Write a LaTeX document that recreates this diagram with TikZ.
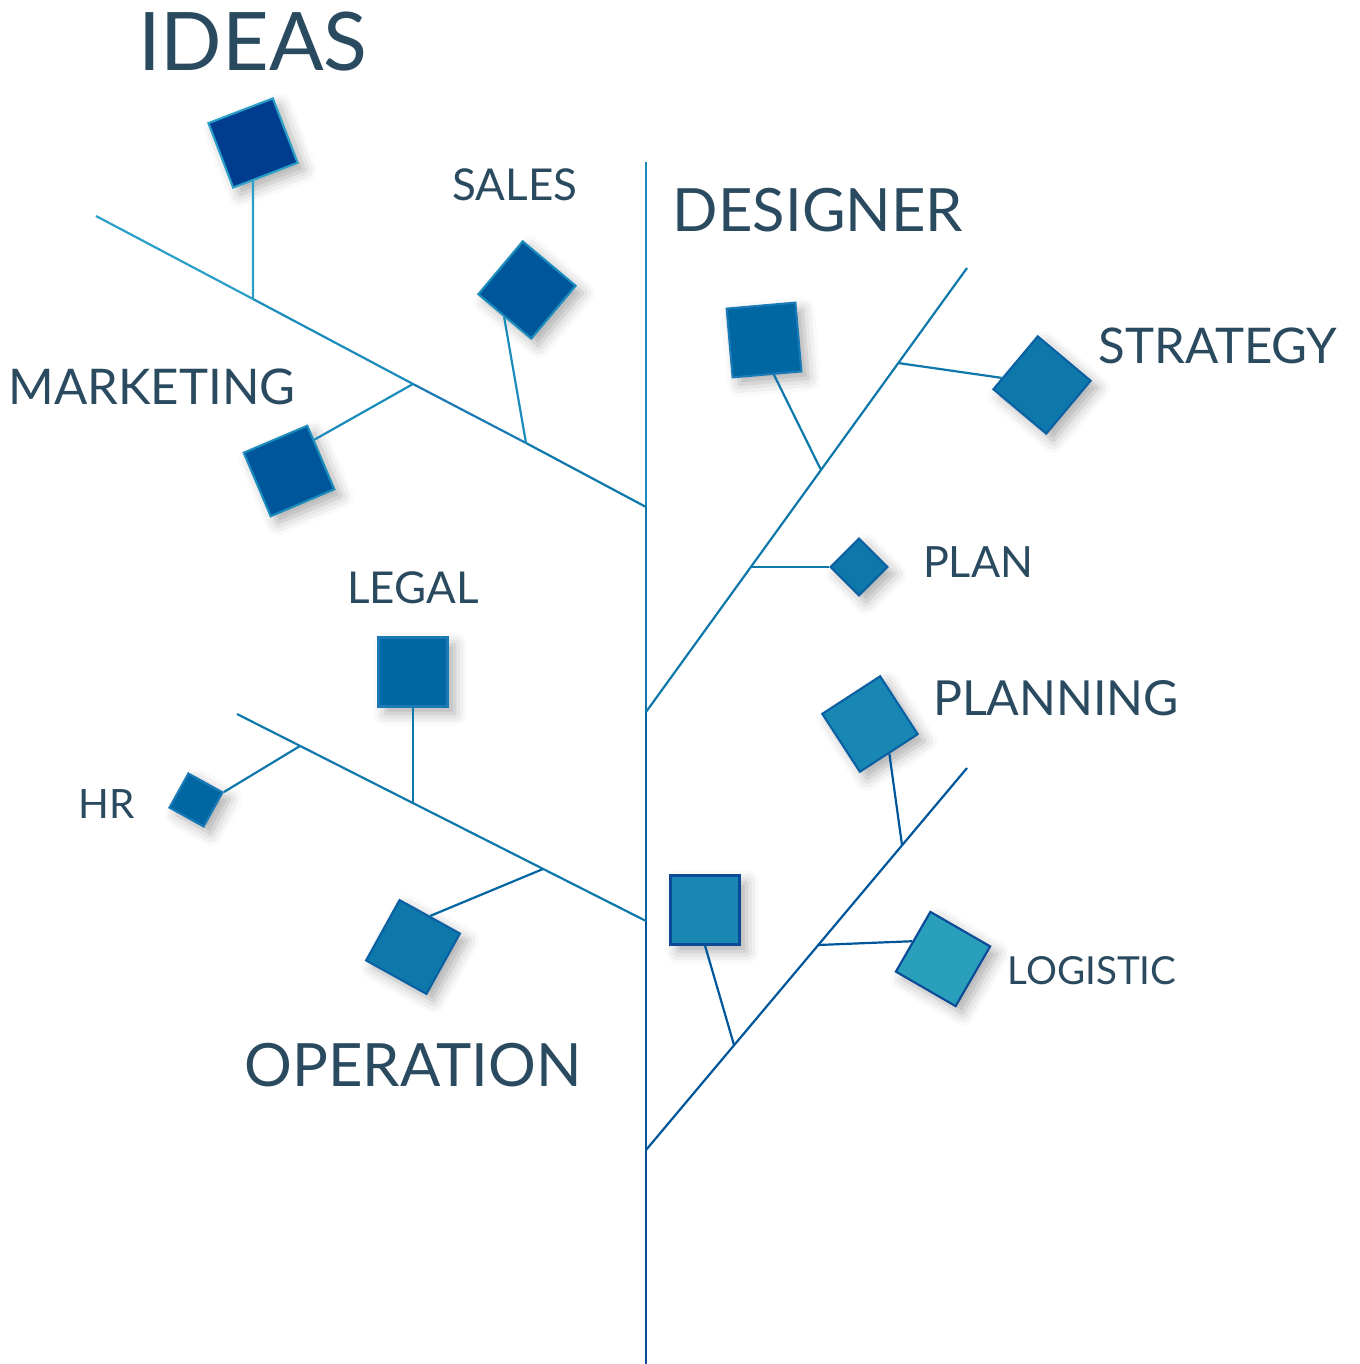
\documentclass[tikz,border=0pt]{standalone}
\usepackage{fontspec}
\setmainfont{Lato}
\usetikzlibrary{shadows.blur}
\definecolor{slate}{HTML}{2A4A60}
\definecolor{navy}{HTML}{003D8F}
\definecolor{deepblue}{HTML}{00569B}
\definecolor{midblue}{HTML}{0067A2}
\definecolor{seablue}{HTML}{0E78AB}
\definecolor{skyblue}{HTML}{1887B4}
\definecolor{tealblue}{HTML}{2A9FBB}
\definecolor{lightline}{HTML}{2AA0C8}
\definecolor{paleline}{HTML}{1A8CBC}
\definecolor{rimblue}{HTML}{1A7AB6}
\definecolor{darkline}{HTML}{0A60A2}
\definecolor{inkline}{HTML}{0A4A96}
\tikzset{
  box/.style={rectangle, draw, line width=1.2pt, minimum size=1.38cm, inner sep=0pt,
    blur shadow={shadow xshift=4pt, shadow yshift=-4pt, shadow blur radius=7pt, shadow opacity=32}},
  smallbox/.style={box, minimum size=0.8cm},
  twig/.style={line width=1.25pt},
  label/.style={text=slate, inner sep=0pt},
  huge label/.style={label, font=\fontsize{46}{52}\selectfont},
  big label/.style={label, font=\fontsize{34}{40}\selectfont},
  mid label/.style={label, font=\fontsize{28}{34}\selectfont},
  small label/.style={label, font=\fontsize{25}{30}\selectfont}
}
\begin{document}
\begin{tikzpicture}[x=0.02cm, y=-0.02cm]
  \useasboundingbox (0,0) rectangle (1359,1364);

  % trunk and roots of the branches
  \coordinate (top) at (646,162);
  \coordinate (r1) at (646,507);
  \coordinate (r2) at (646,712);
  \coordinate (r4) at (646,921);
  \coordinate (r3) at (646,1150);
  \coordinate (bottom) at (646,1364);

  \coordinate (e1) at (96,216);
  \coordinate (e2) at (967,268);
  \coordinate (e3) at (967,768);
  \coordinate (e4) at (237,714);

  % where the twigs meet the branches
  \coordinate (b1a) at (253,299);
  \coordinate (b1b) at (413,384);
  \coordinate (b1c) at (526,443);
  \coordinate (b2a) at (821,470);
  \coordinate (b2b) at (898,363);
  \coordinate (b2c) at (751,567);
  \coordinate (b3a) at (902,845);
  \coordinate (b3b) at (818,945);
  \coordinate (b3c) at (734,1045);
  \coordinate (b4a) at (300,746);
  \coordinate (b4b) at (413,803);
  \coordinate (b4c) at (543,869);

  \draw [twig, paleline] (top) -- (r1);
  \draw [twig, seablue] (r1) -- (r2);
  \draw [twig, midblue] (r2) -- (r4);
  \draw [twig, deepblue] (r4) -- (r3);
  \draw [twig, inkline] (r3) -- (bottom);

  \draw [twig, lightline] (e1) -- (b1a);
  \draw [twig, paleline] (b1a) -- (b1b);
  \draw [twig, rimblue] (b1b) -- (b1c);
  \draw [twig, seablue] (b1c) -- (r1);
  \draw [twig, seablue] (r2) -- (e2);
  \draw [twig, deepblue] (r3) -- (e3);
  \draw [twig, seablue] (e4) -- (r4);

  % boxes
  \node [box, fill=navy, draw=lightline, rotate=21] (ideasbox) at (253,143) {};
  \node [box, fill=deepblue, draw=paleline, rotate=-40] (salesbox) at (527,290) {};
  \node [box, fill=deepblue, draw=paleline, rotate=23] (marketbox) at (289,471) {};
  \node [box, fill=midblue, draw=rimblue, rotate=5] (designbox) at (764,340) {};
  \node [box, fill=seablue, draw=darkline, rotate=-40] (stratbox) at (1042,385) {};
  \node [smallbox, fill=seablue, draw=darkline, rotate=45] (planbox) at (859,567) {};
  \node [box, fill=skyblue, draw=darkline, rotate=33] (planningbox) at (870,724) {};
  \node [box, fill=skyblue, draw=inkline] (lowbox) at (705,910) {};
  \node [box, fill=tealblue, draw=inkline, rotate=-30] (logbox) at (943,959) {};
  \node [box, fill=midblue, draw=rimblue] (legalbox) at (413,672) {};
  \node [smallbox, fill=midblue, draw=rimblue, rotate=-29, minimum size=0.78cm] (hrbox) at (196,800) {};
  \node [box, fill=seablue, draw=darkline, rotate=-29] (opbox) at (413,947) {};

  % twigs
  \draw [twig, lightline] (ideasbox) -- (b1a);
  \draw [twig, paleline] (salesbox.south) -- (b1c);
  \draw [twig, paleline] (marketbox.28) -- (b1b);
  \draw [twig, seablue] (designbox.-79) -- (b2a);
  \draw [twig, seablue] (stratbox.-150) -- (b2b);
  \draw [twig, seablue] (planbox.north west) -- (b2c);
  \draw [twig, deepblue] (planningbox.south) -- (b3a);
  \draw [twig, deepblue] (logbox.west) -- (b3b);
  \draw [twig, deepblue] (lowbox.south) -- (b3c);
  \draw [twig, seablue] (hrbox.north east) -- (b4a);
  \draw [twig, seablue] (legalbox.south) -- (b4b);
  \draw [twig, midblue] (opbox.north) -- (b4c);

  % labels
  \node [huge label] (ideas) at (253,42) {IDEAS};
  \node [big label] (designer) at (818,210) {DESIGNER};
  \node [big label] (operation) at (413,1065) {OPERATION};
  \node [mid label] (marketing) at (152,387) {MARKETING};
  \node [mid label] (strategy) at (1218,346) {STRATEGY};
  \node [mid label, font=\fontsize{27.5}{33}\selectfont] (planning) at (1056,698) {PLANNING};
  \node [small label] (sales) at (515,185) {SALES};
  \node [small label] (legal) at (413,588) {LEGAL};
  \node [small label, font=\fontsize{24.5}{30}\selectfont] (plan) at (978,562) {PLAN};
  \node [small label, font=\fontsize{22}{26}\selectfont] (logistic) at (1092,971) {LOGISTIC};
  \node [small label, font=\fontsize{23}{28}\selectfont] (hr) at (107,804) {HR};
\end{tikzpicture}
\end{document}
